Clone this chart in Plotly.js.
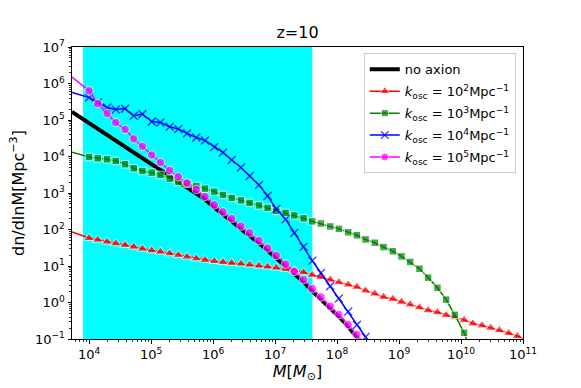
<!DOCTYPE html>
<html>
<head>
<meta charset="utf-8">
<script src="https://cdn.plot.ly/plotly-3.0.1.min.js"></script>
<style>html,body{margin:0;padding:0;background:#fff;}#chart{width:581px;height:388px;}</style>
</head>
<body>
<div id="chart"></div>
<script>
// Halo mass grid (log10 M, marker positions)
const logM = [4.00,4.14,4.29,4.43,4.58,4.72,4.86,5.01,5.15,5.30,5.44,5.58,5.73,5.87,6.02,6.16,6.30,6.45,6.59,6.74,6.88,7.02,7.17,7.31,7.46,7.60,7.74,7.89,8.03,8.18,8.32,8.46,8.61,8.75,8.90,9.04,9.18,9.33,9.47,9.62,9.76,9.90,10.05,10.19,10.34,10.48,10.62,10.77,10.91];
const M_left = 5300;     // left edge of the mass range
const M_right = 1e11;    // right edge of the mass range

// dn/dlnM [Mpc^-3]
const noAxion_left = 167000;
const noAxion = [82300,56800,39200,27200,18900,13000,9040,6240,4330,2990,2070,1440,993,668,404,252,168,104,69.5,42.5,26.5,16.5,9.68,6.17,3.66,2.07,1.24,0.685,0.412,0.220,0.116,0.055];

const k1e2_left = 85;
const k1e2 = [58.2,52.4,46.1,41.4,37.5,33.7,29.7,26.7,24.6,22.1,20.0,17.9,16.1,14.6,13.6,12.8,12.1,11.6,10.9,10.2,9.6,9.0,8.3,7.5,6.7,5.7,5.0,4.2,3.56,3.08,2.67,2.11,1.75,1.42,1.25,1.04,0.88,0.73,0.61,0.54,0.45,0.39,0.33,0.265,0.234,0.202,0.174,0.144,0.119];
const k1e2_right = 0.103;

const k1e3_left = 13030;
const k1e3 = [9690,8930,8380,7530,6120,4760,4020,3610,3120,2470,2010,1810,1560,1320,1090,887,735,628,537,458,392,324,286,244,202,167,146,121,104,83.8,69.5,53.3,43.4,33.0,25.4,18.3,12.9,8.4,4.8,2.52,1.20,0.46,0.148,0.033];

const k1e4_left = 567000;
const k1e4 = [414000,303000,221000,195000,205000,130000,145000,90400,85900,65200,56400,43000,33000,27400,18200,12900,8020,5000,2930,1660,834,368,192,79.8,33.7,14.0,6.44,2.81,1.28,0.564,0.244,0.113,0.049];

const k1e5_left = 1510000;
const k1e5 = [628000,281000,151000,84900,55400,30500,19000,11000,6850,4140,2800,1890,1240,798,473,305,199,124,81.3,49.8,31.0,19.4,11.2,7.12,4.22,2.40,1.42,0.787,0.467,0.249,0.133,0.062];

// shaded mass window
const bandM = [8000, 4.0e7];

// tick labels
const xTickVals = [1e4,1e5,1e6,1e7,1e8,1e9,1e10,1e11];
const xTickText = ['10<sup>4</sup>','10<sup>5</sup>','10<sup>6</sup>','10<sup>7</sup>','10<sup>8</sup>','10<sup>9</sup>','10<sup>10</sup>','10<sup>11</sup>'];
const yTickVals = [1e-1,1,1e1,1e2,1e3,1e4,1e5,1e6,1e7];
const yTickText = ['10<sup>\u22121</sup>','10<sup>0</sup>','10<sup>1</sup>','10<sup>2</sup>','10<sup>3</sup>','10<sup>4</sup>','10<sup>5</sup>','10<sup>6</sup>','10<sup>7</sup>'];

const Mgrid = logM.map(v => Math.pow(10, v));

function series(left, vals, right) {
  const x = [M_left].concat(Mgrid.slice(0, vals.length));
  const y = [left].concat(vals);
  if (right !== undefined) { x.push(M_right); y.push(right); }
  return {x, y};
}
function sizes(n, s, lastMarked, hasRight) {
  const arr = [0];
  for (let i = 0; i < n; i++) arr.push(i < lastMarked ? s : 0);
  if (hasRight) arr.push(0);
  return arr;
}

const FONT = 'DejaVu Sans, sans-serif';
const kLabel = p => '<i>k</i><sub>osc</sub> = 10<sup>' + p + '</sup>Mpc<sup>\u22121</sup>';

const sNo = series(noAxion_left, noAxion);
const s2 = series(k1e2_left, k1e2, k1e2_right);
const s3 = series(k1e3_left, k1e3);
const s4 = series(k1e4_left, k1e4);
const s5 = series(k1e5_left, k1e5);

const traces = [
  {x: sNo.x, y: sNo.y, mode: 'lines', name: 'no axion', legendgroup: 'g0', line: {color: '#000000', width: 4}},
  {x: s2.x, y: s2.y, mode: 'lines+markers', name: kLabel(2), legendgroup: 'g1', line: {color: '#ff0000', width: 1.5},
   marker: {symbol: 'triangle-up', color: '#ff0000', size: sizes(k1e2.length, 9.5, k1e2.length, true)}},
  {x: s3.x, y: s3.y, mode: 'lines+markers', name: kLabel(3), legendgroup: 'g2', line: {color: '#008000', width: 1.5},
   marker: {symbol: 'square', color: '#008000', size: sizes(k1e3.length, 7.5, k1e3.length - 1, false)}},
  {x: s4.x, y: s4.y, mode: 'lines+markers', name: kLabel(4), legendgroup: 'g3', line: {color: '#0000ff', width: 1.5},
   marker: {symbol: 'x-thin-open', color: '#0000ff', size: sizes(k1e4.length, 8, k1e4.length - 1, false), line: {color: '#0000ff', width: 1.5}}},
  {x: s5.x, y: s5.y, mode: 'lines+markers', name: kLabel(5), legendgroup: 'g4', line: {color: '#ff00ff', width: 1.5},
   marker: {symbol: 'circle', color: '#ff00ff', size: sizes(k1e5.length, 8.5, k1e5.length - 1, false)}}
];

const axisCommon = {
  type: 'log', showgrid: false, zeroline: false,
  showline: true, linecolor: '#000000', linewidth: 1, mirror: true,
  ticks: 'outside', ticklen: 3.5, tickwidth: 1, tickcolor: '#000000',
  tickmode: 'array',
  tickfont: {family: FONT, size: 13, color: '#000000'},
  minor: {ticks: 'outside', ticklen: 2, tickwidth: 0.8, tickcolor: '#000000', dtick: 'D1', showgrid: false}
};

const layout = {
  width: 581, height: 388,
  margin: {l: 72, r: 58, t: 47, b: 49},
  paper_bgcolor: '#ffffff', plot_bgcolor: '#ffffff',
  font: {family: FONT, color: '#000000'},
  title: {text: 'z=10', font: {family: FONT, size: 16, color: '#000000'}, x: 0.5, xref: 'paper', xanchor: 'center', y: 0.916, yref: 'container', yanchor: 'middle'},
  xaxis: Object.assign({}, axisCommon, {
    range: [Math.log10(M_left), Math.log10(M_right)],
    tickvals: xTickVals, ticktext: xTickText,
    title: {text: '<i>M</i>[<i>M</i><sub>\u2299</sub>]', font: {family: FONT, size: 16, color: '#000000'}, standoff: 4}
  }),
  yaxis: Object.assign({}, axisCommon, {
    range: [-1, 7],
    tickvals: yTickVals, ticktext: yTickText,
    title: {text: 'dn/dlnM[Mpc<sup>\u22123</sup>]', font: {family: FONT, size: 16, color: '#000000'}, standoff: 6}
  }),
  shapes: [{type: 'rect', xref: 'x', yref: 'paper', x0: bandM[0], x1: bandM[1], y0: 0, y1: 1,
            fillcolor: '#00ffff', line: {width: 0}, layer: 'below'}],
  legend: {x: 0.984, xanchor: 'right', y: 0.978, yanchor: 'top', tracegroupgap: 2,
           bgcolor: 'rgba(255,255,255,0.8)', bordercolor: '#cccccc', borderwidth: 1,
           font: {family: FONT, size: 13, color: '#000000'}},
  showlegend: true
};

Plotly.newPlot('chart', traces, layout, {displayModeBar: false, staticPlot: true});
</script>
</body>
</html>
